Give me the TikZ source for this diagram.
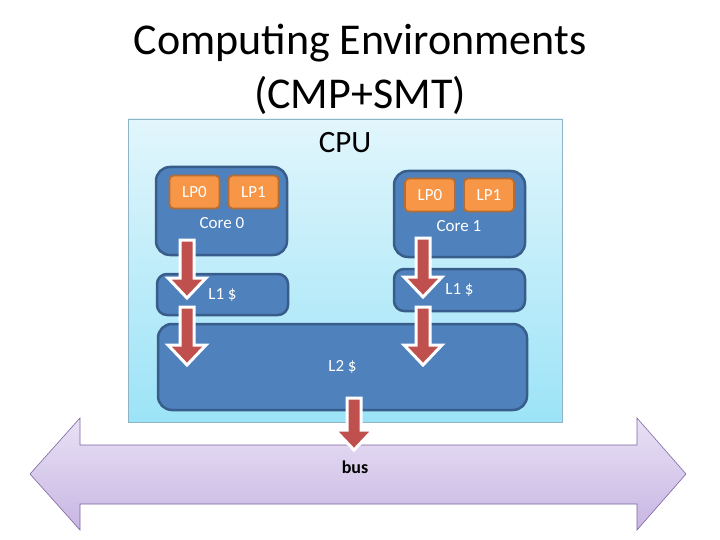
\documentclass[tikz,border=0pt]{standalone}
\usepackage{fontspec}
\setmainfont{Carlito}
\usetikzlibrary{positioning,calc}
\definecolor{cpuTop}{HTML}{E2F6FC}
\definecolor{cpuBot}{HTML}{9CE3F7}
\definecolor{cpuLine}{HTML}{8FB4C6}
\definecolor{boxFill}{HTML}{4F81BD}
\definecolor{boxLine}{HTML}{385D8A}
\definecolor{lpFill}{HTML}{F79646}
\definecolor{lpLine}{HTML}{B66D31}
\definecolor{arrRed}{HTML}{C0504D}
\definecolor{busTop}{HTML}{E8E1F5}
\definecolor{busBot}{HTML}{C8B6E3}
\definecolor{busLine}{HTML}{8064A2}
\newcommand{\fatarrow}[2]{\draw[redarr] ($(#1)+(-7,0)$) -- ($(#2)+(-7,-20)$) -- ($(#2)+(-19,-20)$) -- (#2) -- ($(#2)+(19,-20)$) -- ($(#2)+(7,-20)$) -- ($(#1)+(7,0)$) -- cycle;}

\begin{document}
\begin{tikzpicture}[x=1pt,y=-1pt,
  blockbox/.style={draw=boxLine,fill=boxFill,line width=2.5pt,text=white,font=\fontsize{17}{19}\selectfont},
  lpbox/.style={draw=lpLine,fill=lpFill,line width=1.8pt,rounded corners=4pt,text=white,minimum width=50pt,minimum height=33pt,font=\fontsize{17}{19}\selectfont},
  redarr/.style={fill=arrRed,draw=white,line width=3pt,line join=miter}]
\useasboundingbox (0,0) rectangle (720,540);
\node[align=center,font=\fontsize{44}{54}\selectfont] (title) at (360,69){Computing Environments\\(CMP+SMT)};
% cpu
\path[top color=cpuTop,bottom color=cpuBot,draw=cpuLine,line width=.8pt] (128,119) rectangle (562,422);
\node[font=\fontsize{31}{34}\selectfont] (cpu) at (345,143){CPU};
% cores
\node[blockbox,rounded corners=14pt,minimum width=131pt,minimum height=88pt] (core0) at (221.5,211){};
\node[blockbox,rounded corners=14pt,minimum width=131pt,minimum height=86pt] (core1) at (459.5,214){};
\node[lpbox] (lp00) at (194.5,192){LP0};
\node[lpbox] (lp01) at (253.5,192){LP1};
\node[lpbox] (lp10) at (430,195){LP0};
\node[lpbox] (lp11) at (489,195){LP1};
\node[text=white,font=\fontsize{17}{19}\selectfont] (c0lbl) at (222,223){Core 0};
\node[text=white,font=\fontsize{17}{19}\selectfont] (c1lbl) at (459,226){Core 1};
% caches
\node[blockbox,rounded corners=10pt,minimum width=131pt,minimum height=41pt] (l1a) at (222.5,294.5){L1 \$};
\node[blockbox,rounded corners=10pt,minimum width=131pt,minimum height=42pt] (l1b) at (459.5,290){L1 \$};
\node[blockbox,rounded corners=14pt,minimum width=369pt,minimum height=86pt] (l2) at (342.5,367){L2 \$};
% bus
\path[top color=busTop,bottom color=busBot,draw=busLine,line width=.6pt] (30,474) -- (80,418) -- (80,445) -- (637,445) -- (637,418) -- (686,474) -- (637,530) -- (637,504) -- (80,504) -- (80,530) -- cycle;
\node[font=\fontsize{18}{20}\selectfont\bfseries] (bus) at (355,467){bus};
% arrows
\coordinate (a0) at (187,240);\coordinate (a0e) at (187,298);
\coordinate (a1) at (187,307);\coordinate (a1e) at (187,365);
\coordinate (b0) at (423,238);\coordinate (b0e) at (423,297);
\coordinate (b1) at (423,307);\coordinate (b1e) at (423,365);
\coordinate (c0) at (354,398);\coordinate (c0e) at (354,450);
\fatarrow{a0}{a0e}\fatarrow{a1}{a1e}\fatarrow{b0}{b0e}\fatarrow{b1}{b1e}\fatarrow{c0}{c0e}
\end{tikzpicture}
\end{document}
